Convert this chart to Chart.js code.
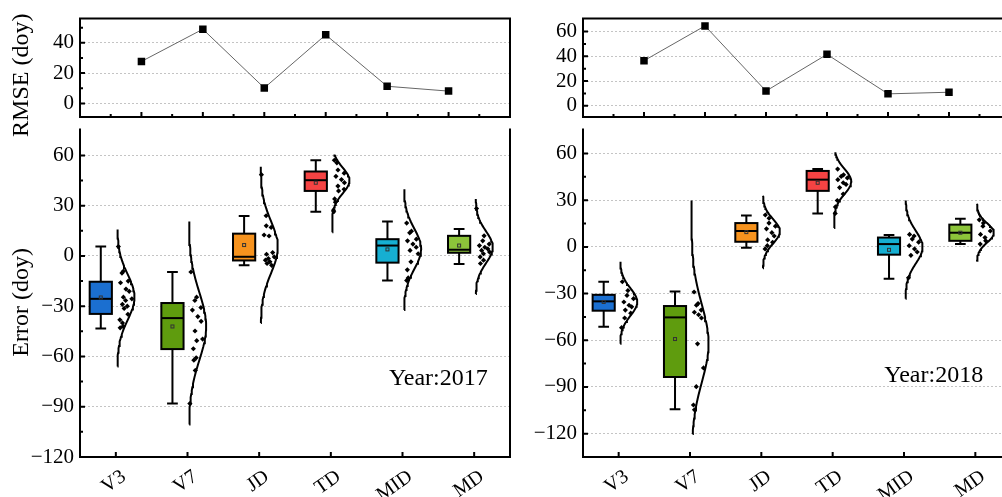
<!DOCTYPE html>
<html>
<head>
<meta charset="utf-8">
<script src="https://cdn.jsdelivr.net/npm/chart.js@4.4.1/dist/chart.umd.min.js"></script>
<style>
html, body { margin: 0; padding: 0; background: #fff; overflow: hidden; width: 1002px; height: 497px; }
canvas { position: absolute; }
</style>
</head>
<body>
<canvas id="rmse2017" width="520" height="140" style="left:0;top:0"></canvas>
<canvas id="err2017" width="520" height="387" style="left:0;top:110px"></canvas>
<canvas id="rmse2018" width="520" height="140" style="left:500px;top:0"></canvas>
<canvas id="err2018" width="520" height="387" style="left:500px;top:110px"></canvas>
<script>
const categories = ['V3', 'V7', 'JD', 'TD', 'MID', 'MD'];
const boxColors = ['#1b6fd0', '#5f9c0e', '#f7931e', '#f54343', '#16afd2', '#8cc43a'];

const rmse2017 = [27.7, 49, 10.2, 45.3, 11.3, 8.1];
const rmse2018 = [36.5, 64.6, 12, 41.6, 9.7, 11];

// [lower whisker, Q1, median, Q3, upper whisker, mean]
const box2017 = [
    [-43.3, -34.6, -25.6, -15.4, 5.6, -24.8],
    [-88.1, -55.6, -37.1, -28.1, -9.6, -42.1],
    [-5.6, -2.7, -0.5, 13.3, 23.8, 6.5],
    [26.4, 38.8, 45.2, 50.4, 57.1, 43.7],
    [-14.6, -4, 6.2, 10, 20.6, 3.9],
    [-4.8, 1.9, 3.7, 12, 16.1, 6.2]
];
const box2018 = [
    [-51.3, -41, -35, -30.8, -22.4, -35.4],
    [-104.3, -83.6, -45.3, -38, -28.6, -59.2],
    [-0.6, 3.3, 10.2, 15.3, 20.1, 9.5],
    [21.5, 36, 43.2, 48.8, 50, 41.2],
    [-20.5, -5, 1.8, 6, 7.7, -1.9],
    [1.8, 3.9, 9.1, 14.3, 18, 9.1]
];

// normal curve: [mean, sd, low end, high end]
const curve2017 = [
    [-24.6, 13.6, -66, 15.8],
    [-42, 20.2, -100.6, 20.6],
    [5.2, 15.5, -40, 53.2],
    [45, 7.7, 14.2, 60.6],
    [4.2, 12, -32.3, 39.8],
    [5.2, 9.5, -22.7, 34]
];
const curve2018 = [
    [-35.4, 8.8, -62.3, -9.5],
    [-62, 25, -120.2, 29.8],
    [10, 7.8, -13.7, 32.9],
    [42, 8.1, 12.2, 60.8],
    [-0.2, 10.5, -33.3, 29.8],
    [9, 6.2, -9.5, 27.7]
];

const points2017 = [
    [5.6, -9.2, -10.2, -15, -16, -19.8, -21.1, -24.6, -25.6, -26.6, -28.9, -30, -31.3, -34.8, -38.1, -40, -42, -42.9],
    [-9.6, -24.6, -26.6, -30.8, -32.3, -36.2, -39, -44.8, -49.6, -50.6, -55.4, -60.8, -62.2, -68.3, -88.1],
    [48.5, 24, 18, 17, 12.5, 11.9, 2, 1, -0.6, -1.6, -2.5, -3.5, -4.5, -5.6],
    [57.1, 55.6, 51.3, 49.4, 47.5, 45.6, 43.7, 41.7, 39.8, 38.8, 34, 32.1, 27.3, 26.4],
    [19.6, 14.8, 13.8, 10, 9, 7.1, 5.2, 3.3, 1.3, -3.5, -8.3, -13.1, -14.6],
    [28.3, 12, 9, 7.1, 6.2, 5.2, 4.2, 3.3, 2.3, 1.3, -0.6, -2.5, -4.5]
];
const points2018 = [
    [-22.4, -28.1, -31.2, -33.3, -35.4, -37.5, -38.5, -40.6, -42.6, -45.7, -51.9],
    [-29, -36.4, -37.5, -40.6, -42, -43.6, -45.7, -62.3, -77.8, -89.8, -101.6, -104.7],
    [20.5, 18.4, 15.3, 13.3, 11.6, 9.1, 7, 4.5, 2.9, 0.8, -1.3],
    [50, 46.3, 45.3, 44.3, 43.2, 41.2, 40.1, 38.1, 33.9, 29.8, 25.7, 21.5],
    [8, 7, 5, 3, 0.8, -1.3, -3.3, -5.4, -19.9],
    [17.4, 15.3, 13.3, 10.2, 8, 6, 3.9, 1.8]
];

const FONT = '"Liberation Serif", "Times New Roman", serif';
const BOX_SHIFT = -0.21, BOX_HALF = 0.155, CAP_HALF = 0.075;
const VIOLIN_GAP = 0.02, VIOLIN_W = 0.24;
const JITTER = [0.3, 0.65, 0.45, 0.85, 0.2, 0.55, 0.75, 0.35, 0.9, 0.5];

function minus(v) {
    return String(v).replace('-', '\u2212');
}

function bellWidth(c, y) {
    const z = (y - c[0]) / c[1];
    return VIOLIN_W * Math.exp(-0.5 * z * z);
}

function curveData(i, c) {
    const out = [];
    const n = 60;
    for (let k = 0; k <= n; k++) {
        const y = c[2] + (c[3] - c[2]) * k / n;
        out.push({ x: i + 0.5 + VIOLIN_GAP + bellWidth(c, y), y: y });
    }
    return out;
}

// рамка, внутренние засечки, боксы, подписи
const decor = {
    id: 'decor',
    beforeDatasetsDraw(chart, args, o) {
        if (!o.boxes) return;
        const { ctx } = chart;
        const x = chart.scales.x, y = chart.scales.y;
        o.boxes.forEach((b, i) => {
            const c = i + 0.5 + BOX_SHIFT;
            const cx = x.getPixelForValue(c);
            const hw = x.getPixelForValue(c + BOX_HALF) - cx;
            const cw = x.getPixelForValue(c + CAP_HALF) - cx;
            const [lo, q1, med, q3, hi, mean] = b.map(v => y.getPixelForValue(v));
            ctx.save();
            ctx.lineWidth = 2;
            ctx.strokeStyle = '#000';
            ctx.beginPath();
            ctx.moveTo(cx, hi); ctx.lineTo(cx, q3);
            ctx.moveTo(cx, q1); ctx.lineTo(cx, lo);
            ctx.moveTo(cx - cw, hi); ctx.lineTo(cx + cw, hi);
            ctx.moveTo(cx - cw, lo); ctx.lineTo(cx + cw, lo);
            ctx.stroke();
            ctx.fillStyle = o.colors[i];
            ctx.fillRect(cx - hw, q3, 2 * hw, q1 - q3);
            ctx.strokeRect(cx - hw, q3, 2 * hw, q1 - q3);
            ctx.beginPath();
            ctx.moveTo(cx - hw, med); ctx.lineTo(cx + hw, med);
            ctx.stroke();
            ctx.lineWidth = 1;
            ctx.strokeStyle = '#333';
            ctx.strokeRect(cx - 1.5, mean - 1.5, 3, 3);
            ctx.restore();
        });
    },
    afterDraw(chart, args, o) {
        const { ctx, chartArea: a } = chart;
        const x = chart.scales.x, y = chart.scales.y;
        ctx.save();
        ctx.strokeStyle = '#000';
        ctx.lineWidth = 2;
        ctx.beginPath();
        (o.xMajor || []).forEach(v => { const p = x.getPixelForValue(v); ctx.moveTo(p, a.bottom); ctx.lineTo(p, a.bottom - 5); });
        (o.xMinor || []).forEach(v => { const p = x.getPixelForValue(v); ctx.moveTo(p, a.bottom); ctx.lineTo(p, a.bottom - 3); });
        (o.yMajor || []).forEach(v => { const p = y.getPixelForValue(v); ctx.moveTo(a.left, p); ctx.lineTo(a.left + 5, p); });
        (o.yMinor || []).forEach(v => { const p = y.getPixelForValue(v); ctx.moveTo(a.left, p); ctx.lineTo(a.left + 3, p); });
        ctx.stroke();
        ctx.beginPath();
        if (o.frame.includes('t')) { ctx.moveTo(a.left - 1, a.top); ctx.lineTo(a.right + 1, a.top); }
        if (o.frame.includes('b')) { ctx.moveTo(a.left - 1, a.bottom); ctx.lineTo(a.right + 1, a.bottom); }
        if (o.frame.includes('l')) { ctx.moveTo(a.left, a.top); ctx.lineTo(a.left, a.bottom); }
        if (o.frame.includes('r')) { ctx.moveTo(a.right, a.top); ctx.lineTo(a.right, a.bottom); }
        ctx.stroke();
        ctx.fillStyle = '#000';
        ctx.font = '24px ' + FONT;
        if (o.label) {
            ctx.textAlign = 'right';
            ctx.textBaseline = 'middle';
            ctx.fillText(o.label.text, x.getPixelForValue(o.label.x), y.getPixelForValue(o.label.y));
        }
        if (o.yTitle) {
            ctx.save();
            ctx.translate(o.yTitle.px, y.getPixelForValue(o.yTitle.y));
            ctx.rotate(-Math.PI / 2);
            ctx.textAlign = 'center';
            ctx.textBaseline = 'middle';
            ctx.fillText(o.yTitle.text, 0, 0);
            ctx.restore();
        }
        ctx.restore();
    }
};

function rmseChart(id, values, yMax, yTicks, yMinor, padTop, axisW, yTitle) {
    new Chart(document.getElementById(id), {
        type: 'line',
        data: {
            datasets: [{
                data: values.map((v, i) => ({ x: i + 1, y: v })),
                borderColor: '#666',
                borderWidth: 1,
                pointStyle: 'rect',
                pointRadius: 5.3,
                pointBackgroundColor: '#000',
                pointBorderColor: '#000',
                pointBorderWidth: 0
            }]
        },
        options: {
            responsive: false,
            animation: false,
            events: [],
            layout: { padding: { top: padTop, right: 10, bottom: 23, left: 0 } },
            plugins: {
                legend: { display: false },
                tooltip: { enabled: false },
                decor: {
                    frame: 'tblr',
                    xMajor: [1, 2, 3, 4, 5, 6],
                    xMinor: [0.5, 1.5, 2.5, 3.5, 4.5, 5.5, 6.5],
                    yMajor: yTicks,
                    yMinor: yMinor,
                    yTitle: yTitle
                }
            },
            scales: {
                x: { type: 'linear', min: 0, max: 7, display: false },
                y: {
                    min: -9,
                    max: yMax,
                    afterFit: s => { s.width = axisW; },
                    afterBuildTicks: s => { s.ticks = yTicks.map(v => ({ value: v })); },
                    grid: { color: '#c4c4c4', drawTicks: false },
                    border: { display: false, dash: [2, 2] },
                    ticks: { font: { family: FONT, size: 21 }, color: '#000', padding: 6, callback: v => minus(v) }
                }
            }
        },
        plugins: [decor]
    });
}

function errorChart(id, boxes, curves, pts, yMin, yTicks, yMinor, axisW, padRight, yTitle, label) {
    const datasets = [];
    curves.forEach((c, i) => {
        datasets.push({
            type: 'line',
            data: curveData(i, c),
            borderColor: '#000',
            borderWidth: 2,
            pointRadius: 0,
            tension: 0
        });
    });
    const scatter = [];
    pts.forEach((list, i) => {
        list.forEach((v, k) => {
            const w = bellWidth(curves[i], v);
            scatter.push({ x: i + 0.5 + VIOLIN_GAP + 0.01 + JITTER[k % JITTER.length] * w * 0.9, y: v });
        });
    });
    datasets.push({
        type: 'scatter',
        data: scatter,
        pointStyle: 'rectRot',
        pointRadius: 2.6,
        pointBackgroundColor: '#000',
        pointBorderColor: '#000',
        pointBorderWidth: 0
    });

    new Chart(document.getElementById(id), {
        type: 'scatter',
        data: { datasets: datasets },
        options: {
            responsive: false,
            animation: false,
            events: [],
            layout: { padding: { top: 7, right: padRight, bottom: 0, left: 0 } },
            plugins: {
                legend: { display: false },
                tooltip: { enabled: false },
                decor: {
                    boxes: boxes,
                    colors: boxColors,
                    frame: 'blr',
                    xMajor: categories.map((c, i) => i + 0.5),
                    yMajor: yTicks,
                    yMinor: yMinor,
                    label: label,
                    yTitle: yTitle
                }
            },
            scales: {
                x: {
                    type: 'linear',
                    min: 0,
                    max: 6,
                    afterFit: s => { s.height = 40; },
                    afterBuildTicks: s => { s.ticks = categories.map((c, i) => ({ value: i + 0.5 })); },
                    grid: { display: false },
                    border: { display: false },
                    ticks: {
                        autoSkip: false,
                        minRotation: 35,
                        maxRotation: 35,
                        padding: 0,
                        labelOffset: 8,
                        font: { family: FONT, size: 20 },
                        color: '#000',
                        callback: (v, idx) => categories[idx]
                    }
                },
                y: {
                    min: yMin,
                    max: 76,
                    afterFit: s => { s.width = axisW; },
                    afterBuildTicks: s => { s.ticks = yTicks.map(v => ({ value: v })); },
                    grid: { color: '#c4c4c4', drawTicks: false },
                    border: { display: false, dash: [2, 2] },
                    ticks: { font: { family: FONT, size: 21 }, color: '#000', padding: 6, callback: v => minus(v) }
                }
            }
        },
        plugins: [decor]
    });
}

rmseChart('rmse2017', rmse2017, 56, [0, 20, 40], [10, 30, 50], 15, 80,
    { text: 'RMSE (doy)', px: 22, y: 18.6 });
rmseChart('rmse2018', rmse2018, 70.5, [0, 20, 40, 60], [10, 30, 50], 13, 83, null);

errorChart('err2017', box2017, curve2017, points2017, -120,
    [60, 30, 0, -30, -60, -90, -120], [45, 15, -15, -45, -75, -105], 80, 10,
    { text: 'Error (doy)', px: 22, y: -27.7 },
    { text: 'Year:2017', x: 5.69, y: -73.3 });
errorChart('err2018', box2018, curve2018, points2018, -135,
    [60, 30, 0, -30, -60, -90, -120], [45, 15, -15, -45, -75, -105], 83, 9, null,
    { text: 'Year:2018', x: 5.61, y: -82.8 });
</script>
</body>
</html>
